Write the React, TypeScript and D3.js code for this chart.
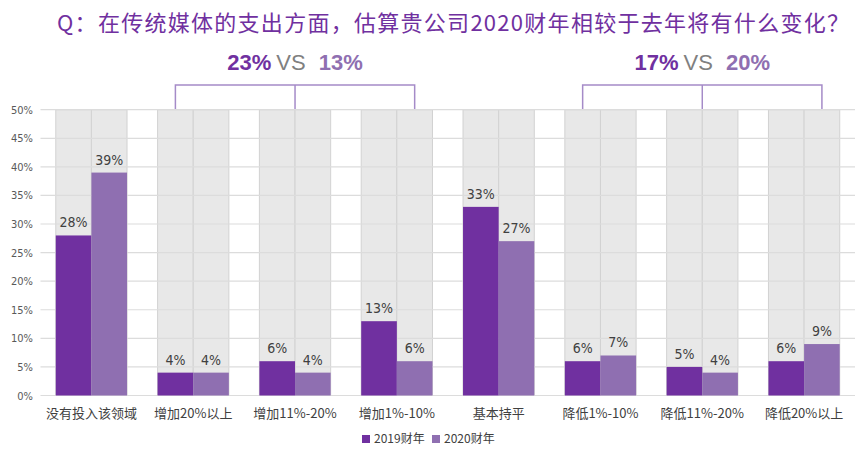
import React from "react";
import * as d3 from "d3";

const categories = [
  "没有投入该领域",
  "增加20%以上",
  "增加11%-20%",
  "增加1%-10%",
  "基本持平",
  "降低1%-10%",
  "降低11%-20%",
  "降低20%以上",
];
const series = ["2019财年", "2020财年"];
const values2019 = [28, 4, 6, 13, 33, 6, 5, 6];
const values2020 = [39, 4, 4, 6, 27, 7, 4, 9];
const yTicks = [0, 5, 10, 15, 20, 25, 30, 35, 40, 45, 50];
const title = "Q：在传统媒体的支出方面，估算贵公司2020财年相较于去年将有什么变化？";
const increaseSummary = ["23%", "VS", "13%"];
const decreaseSummary = ["17%", "VS", "20%"];

const W = 859;
const H = 453;
const DARK = "#7030A0";
const LIGHT = "#8F6FB1";
const BRACKET = "#A58BC8";

const App = () => {
  const x = d3
    .scaleBand()
    .domain(categories)
    .range([40.5, 855])
    .paddingInner(0.3)
    .paddingOuter(0.15);
  const xSub = d3.scaleBand().domain(series).range([0, x.bandwidth()]);
  const y = d3.scaleLinear().domain([0, 50]).range([395.5, 109.7]);

  const rows = categories.map((c, i) => ({
    cat: c,
    vals: [values2019[i], values2020[i]],
  }));

  // bracket from first bar of one category to second bar of another
  const bracket = (from: number, to: number) => {
    const x1 = x(categories[from])! + xSub(series[0])! + xSub.bandwidth() / 2;
    const x2 = x(categories[to])! + xSub(series[1])! + xSub.bandwidth() / 2;
    return { x1, x2, mid: (x1 + x2) / 2 };
  };
  const b1 = bracket(1, 3);
  const b2 = bracket(5, 7);
  const topY = 85;

  const summary = (parts: string[], cx: number) => (
    <text
      x={cx}
      y={70}
      textAnchor="middle"
      fontFamily="Liberation Sans, Arial, sans-serif"
      fontSize={22}
    >
      <tspan fill={DARK} fontWeight="bold">{parts[0]}</tspan>
      <tspan fill="#808080" dx={5}>{parts[1]}</tspan>
      <tspan fill={LIGHT} fontWeight="bold" dx={13}>{parts[2]}</tspan>
    </text>
  );

  return (
    <svg
      width={W}
      height={H}
      style={{ position: "absolute", left: 0, top: 0, background: "#fff" }}
    >
      <text
        x={57}
        y={31}
        fill={DARK}
        fontFamily="Noto Sans CJK SC, sans-serif"
        fontSize={22}
        textLength={792}
        lengthAdjust="spacing"
      >
        {title}
      </text>

      {summary(increaseSummary, b1.mid)}
      {summary(decreaseSummary, b2.mid)}

      {[b1, b2].map((b, i) => (
        <g key={i} stroke={BRACKET} strokeWidth={1.5} fill="none">
          <path d={`M${b.x1},${y(50)} V${topY} H${b.x2} V${y(50)}`} />
          <line x1={b.mid} x2={b.mid} y1={topY} y2={y(50)} />
        </g>
      ))}

      {/* gray background columns */}
      {rows.map((r) =>
        series.map((s) => (
          <rect
            key={r.cat + s}
            x={x(r.cat)! + xSub(s)!}
            y={y(50)}
            width={xSub.bandwidth()}
            height={y(0) - y(50)}
            fill="#E8E8E8"
            stroke="#D2D2D2"
            strokeWidth={1}
          />
        ))
      )}

      {yTicks.map((t) => (
        <g key={t}>
          <line x1={40.5} x2={855} y1={y(t)} y2={y(t)} stroke="#DCDCDC" strokeWidth={1.2} />
          <text
            x={33}
            y={y(t) + 4}
            textAnchor="end"
            fontSize={11}
            fill="#595959"
            fontFamily="Liberation Sans Narrow, DejaVu Sans Condensed, sans-serif"
          >
            {t}%
          </text>
        </g>
      ))}

      {rows.map((r) =>
        r.vals.map((v, j) => {
          const bx = x(r.cat)! + xSub(series[j])!;
          return (
            <g key={r.cat + j}>
              <rect
                x={bx}
                y={y(v)}
                width={xSub.bandwidth()}
                height={y(0) - y(v)}
                fill={j === 0 ? DARK : LIGHT}
              />
              <text
                x={bx + xSub.bandwidth() / 2}
                y={y(v) - 8}
                textAnchor="middle"
                fontSize={14}
                fill="#404040"
                fontFamily="Liberation Sans Narrow, DejaVu Sans Condensed, sans-serif"
              >
                {v}%
              </text>
            </g>
          );
        })
      )}

      {categories.map((c) => (
        <text
          key={c}
          x={x(c)! + x.bandwidth() / 2}
          y={418}
          textAnchor="middle"
          fontSize={13}
          fill="#404040"
          fontFamily="Noto Sans CJK SC, sans-serif"
        >
          {c}
        </text>
      ))}

      {series.map((s, i) => (
        <g key={s} transform={`translate(${362 + i * 70},0)`}>
          <rect x={0} y={435} width={8} height={8} fill={i === 0 ? DARK : LIGHT} />
          <text
            x={12}
            y={443}
            fontSize={12}
            fill="#404040"
            fontFamily="Noto Sans CJK SC, sans-serif"
          >
            {s}
          </text>
        </g>
      ))}
    </svg>
  );
};

export default App;
